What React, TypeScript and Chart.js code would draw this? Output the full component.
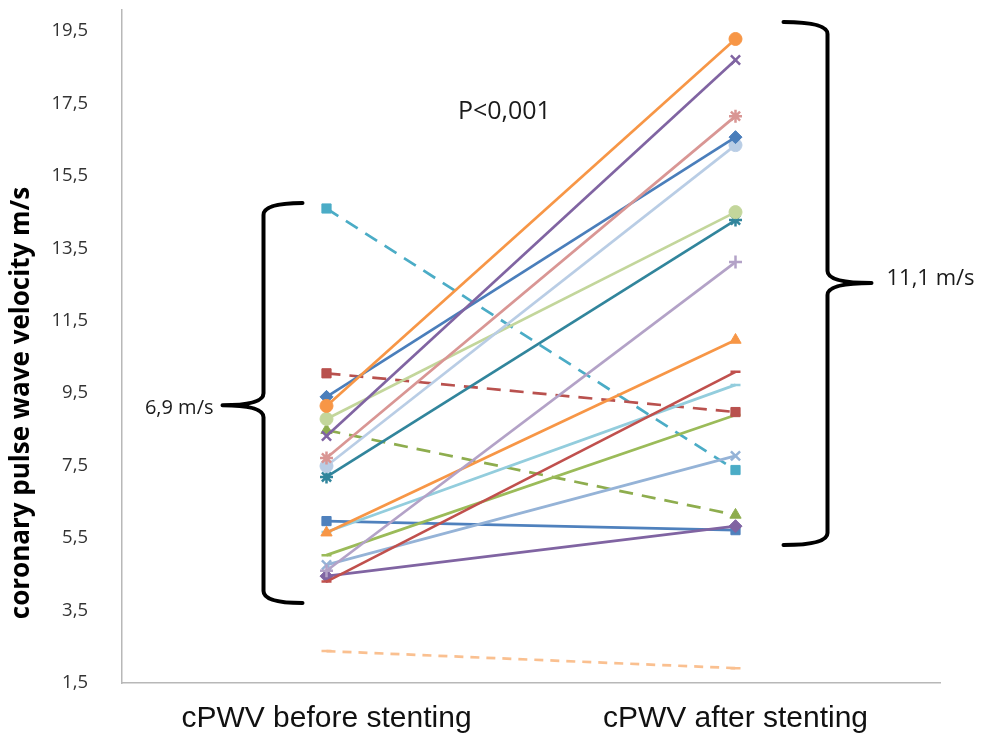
import React, { useEffect, useRef } from "react";
import { Chart, registerables } from "chart.js";

Chart.register(...registerables);

const categories = ["cPWV before stenting", "cPWV after stenting"];
const yTickValues = [1.5, 3.5, 5.5, 7.5, 9.5, 11.5, 13.5, 15.5, 17.5, 19.5];
const yAxisTitle = "coronary pulse wave velocity m/s";
const pValueText = "P<0,001";
const beforeSpreadText = "6,9 m/s";
const afterSpreadText = "11,1 m/s";

// paired patient values (before, after)
const beforeValues = [9.15, 8.32, 7.71, 9.4, 7.49, 8.79, 7.19, 4.6, 5.65, 4.3, 5.67, 10.05, 5.03, 4.76, 14.6, 8.48, 4.45, 5.97, 2.38];
const afterValues = [19.28, 18.7, 17.15, 16.57, 16.35, 14.5, 14.28, 13.12, 10.97, 10.09, 9.73, 8.98, 8.9, 7.77, 7.38, 6.14, 5.83, 5.72, 1.91];
const seriesColors = ["#F79646", "#8064A2", "#D99694", "#4A7EBB", "#B9CDE5", "#C3D69B", "#31859C", "#B3A2C7", "#F79646", "#C0504D", "#93CDDD", "#B9514E", "#9BBB59", "#95B3D7", "#4BACC6", "#8EAD4E", "#8064A2", "#4F81BD", "#FAC090"];
const seriesMarkers = ["circle", "crossRot", "star", "rectRot", "circle", "circle", "star", "cross", "triangle", "line", "line", "rect", "line", "crossRot", "rect", "triangle", "rectRot", "rect", "line"];
const seriesDashed = [false, false, false, false, false, false, false, false, false, false, false, true, false, false, true, true, false, false, true];

// brace annotations in data units (top, tip, bottom)
const beforeBrace = [14.75, 9.17, 3.71];
const afterBrace = [19.75, 12.54, 5.31];
const pValueAt = 17.26;
const axisTitleAt = 9.23;

const fmt = (v: number) => v.toFixed(1).replace(".", ",");

export default function App() {
  const ref = useRef<HTMLCanvasElement | null>(null);

  useEffect(() => {
    if (!ref.current) return;
    const datasets = beforeValues.map((b, i) => {
      const c = seriesColors[i];
      const m = seriesMarkers[i];
      const open = m === "crossRot" || m === "cross" || m === "star" || m === "line";
      return {
        label: "Patient " + (i + 1),
        data: [b, afterValues[i]],
        borderColor: c,
        backgroundColor: c,
        borderWidth: 2.7,
        borderDash: seriesDashed[i] ? (i === 18 ? [9, 7] : [14, 9]) : [],
        pointStyle: m as any,
        pointRadius: m === "line" ? 5 : 6.5,
        pointBorderWidth: open ? 2.5 : 1,
        pointBackgroundColor: c,
        pointBorderColor: c,
        fill: false,
        tension: 0,
      };
    });

    const annot = {
      id: "annot",
      afterDraw(chart: any) {
        const ctx = chart.ctx;
        const xs = chart.scales.x;
        const ys = chart.scales.y;
        const c0 = xs.getPixelForValue(0);
        const c1 = xs.getPixelForValue(1);
        const ca = chart.chartArea;
        ctx.save();
        ctx.strokeStyle = "#000";
        ctx.lineWidth = 4;
        ctx.lineCap = "round";
        const brace = (armX: number, spineX: number, tipX: number, vals: number[]) => {
          const yT = ys.getPixelForValue(vals[0]);
          const yM = ys.getPixelForValue(vals[1]);
          const yB = ys.getPixelForValue(vals[2]);
          const r = 12;
          ctx.beginPath();
          ctx.moveTo(armX, yT);
          ctx.quadraticCurveTo(spineX, yT, spineX, yT + r);
          ctx.lineTo(spineX, yM - r);
          ctx.quadraticCurveTo(spineX, yM, tipX, yM);
          ctx.moveTo(tipX, yM);
          ctx.quadraticCurveTo(spineX, yM, spineX, yM + r);
          ctx.lineTo(spineX, yB - r);
          ctx.quadraticCurveTo(spineX, yB, armX, yB);
          ctx.stroke();
          return yM;
        };
        const yl = brace(c0 - 24, c0 - 63, c0 - 104, beforeBrace);
        const yr = brace(c1 + 48, c1 + 92, c1 + 136, afterBrace);
        ctx.fillStyle = "#1a1a1a";
        ctx.textBaseline = "middle";
        ctx.font = "20px 'Open Sans'";
        ctx.textAlign = "right";
        ctx.fillText(beforeSpreadText, c0 - 113, yl + 3);
        ctx.font = "22px 'Open Sans'";
        ctx.textAlign = "left";
        ctx.fillText(afterSpreadText, c1 + 151, yr - 4);
        ctx.font = "25px 'Open Sans'";
        ctx.textAlign = "center";
        ctx.fillText(pValueText, c0 + 0.435 * (c1 - c0), ys.getPixelForValue(pValueAt));
        ctx.translate(ca.left - 100, ys.getPixelForValue(axisTitleAt));
        ctx.rotate(-Math.PI / 2);
        ctx.font = "bold 26px 'Open Sans'";
        ctx.fillStyle = "#000";
        ctx.fillText(yAxisTitle, 0, 0);
        ctx.restore();
      },
    };

    const chart = new Chart(ref.current, {
      type: "line",
      data: { labels: categories, datasets },
      plugins: [annot],
      options: {
        animation: false,
        responsive: false,
        maintainAspectRatio: false,
        layout: { padding: { top: 10, right: 43, bottom: 0, left: 0 } },
        plugins: { legend: { display: false }, tooltip: { enabled: false } },
        scales: {
          x: {
            type: "category",
            offset: true,
            grid: { display: false, drawTicks: false },
            border: { display: true, color: "#b8b8b8", width: 1.5 },
            ticks: { color: "#111", padding: 18, font: { family: "'Liberation Sans'", size: 30 } },
            afterFit: (s: any) => { s.height = 52; s.paddingLeft = 0; s.paddingRight = 0; },
          },
          y: {
            type: "linear",
            min: 1.5,
            max: 20.08,
            grid: { display: false, drawTicks: false },
            border: { display: true, color: "#b8b8b8", width: 1.5 },
            afterBuildTicks: (s: any) => { s.ticks = yTickValues.map((v) => ({ value: v })); },
            ticks: { color: "#333", padding: 34, font: { family: "'Open Sans'", size: 18.5 }, callback: (v: any) => fmt(Number(v)) },
            afterFit: (s: any) => { s.width = 122; s.paddingTop = 0; s.paddingBottom = 0; },
          },
        },
      },
    });
    return () => chart.destroy();
  }, []);

  return (
    <div style={{ position: "fixed", left: 0, top: 0, width: 983, height: 735, background: "#fff" }}>
      <canvas ref={ref} width={983} height={735} style={{ display: "block" }} />
    </div>
  );
}
